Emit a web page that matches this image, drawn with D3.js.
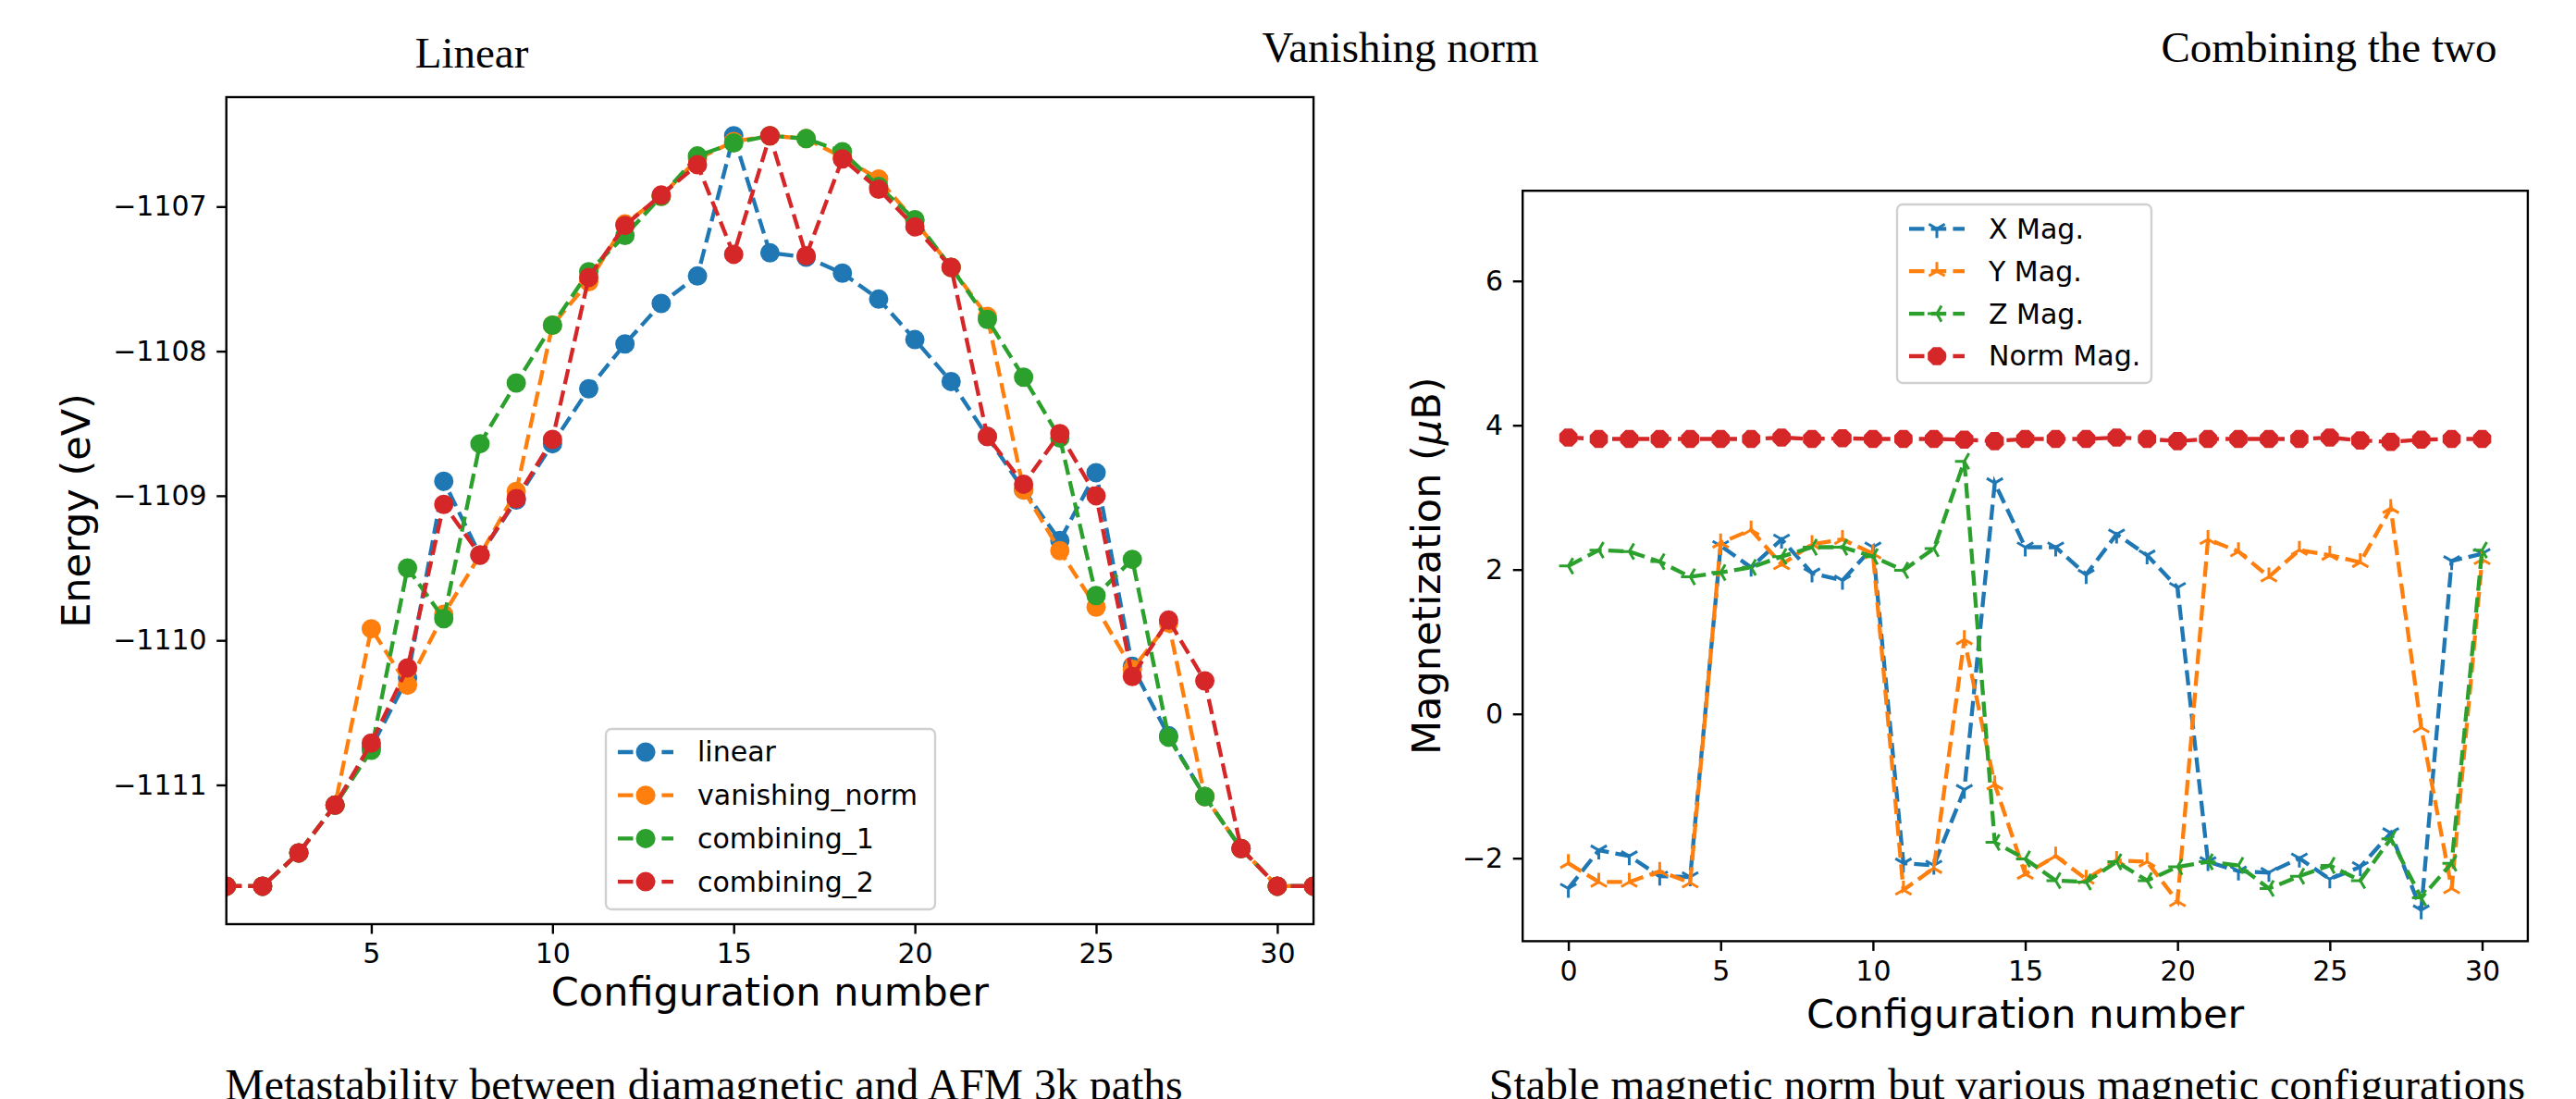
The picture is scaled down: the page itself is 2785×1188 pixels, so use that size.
<!DOCTYPE html>
<html>
<head>
<meta charset="utf-8">
<title>Energy and magnetization along configuration paths</title>
<script src="https://d3js.org/d3.v7.min.js"></script>
<style>
    body { margin: 0; background: #fff; }
    svg { display: block; }
    .tick text { font-family: "DejaVu Sans", sans-serif; font-size: 30px; fill: #000; }
    .tick line { stroke: #000; stroke-width: 2.4px; }
    .domain { display: none; }
    .axis-label { font-family: "DejaVu Sans", sans-serif; font-size: 43px; fill: #000; }
    .caption { font-family: "Liberation Serif", serif; font-size: 47px; fill: #000; }
    .caption.bottom { font-size: 47.8px; }
    .legend text { font-family: "DejaVu Sans", sans-serif; font-size: 30px; fill: #000; }
</style>
</head>
<body>
<div id="chart"></div>
<script>

// left panel: energy along the path
const energyConfigs = [1, 2, 3, 4, 5, 6, 7, 8, 9, 10, 11, 12, 13, 14, 15, 16,
    17, 18, 19, 20, 21, 22, 23, 24, 25, 26, 27, 28, 29, 30, 31];
const linear = [-1111.70, -1111.70, -1111.47, -1111.14, -1110.74, -1110.26, -1108.90, -1109.41,
    -1109.03, -1108.64, -1108.26, -1107.95, -1107.67, -1107.48, -1106.51, -1107.32,
    -1107.35, -1107.46, -1107.64, -1107.92, -1108.21, -1108.59, -1108.96, -1109.31,
    -1108.84, -1110.18, -1110.66, -1111.08, -1111.44, -1111.70, -1111.70];
const vanishingNorm = [-1111.70, -1111.70, -1111.47, -1111.14, -1109.92, -1110.31, -1109.82, -1109.41,
    -1108.97, -1107.82, -1107.52, -1107.12, -1106.93, -1106.67, -1106.55, -1106.51,
    -1106.53, -1106.66, -1106.81, -1107.10, -1107.42, -1107.76, -1108.96, -1109.38,
    -1109.77, -1110.20, -1109.88, -1111.08, -1111.44, -1111.70, -1111.70];
const combining1 = [-1111.70, -1111.70, -1111.47, -1111.14, -1110.76, -1109.50, -1109.85, -1108.64,
    -1108.22, -1107.82, -1107.45, -1107.20, -1106.93, -1106.65, -1106.56, -1106.51,
    -1106.53, -1106.62, -1106.86, -1107.09, -1107.42, -1107.78, -1108.18, -1108.60,
    -1109.69, -1109.44, -1110.67, -1111.08, -1111.44, -1111.70, -1111.70];
const combining2 = [-1111.70, -1111.70, -1111.47, -1111.14, -1110.71, -1110.19, -1109.06, -1109.41,
    -1109.02, -1108.61, -1107.49, -1107.13, -1106.92, -1106.71, -1107.33, -1106.51,
    -1107.34, -1106.67, -1106.88, -1107.14, -1107.42, -1108.59, -1108.92, -1108.57,
    -1109.00, -1110.25, -1109.86, -1110.28, -1111.44, -1111.70, -1111.70];
const energyNames = ["linear", "vanishing_norm", "combining_1", "combining_2"];
const energyXTicks = [5, 10, 15, 20, 25, 30];
const energyYTicks = [-1107, -1108, -1109, -1110, -1111];

// right panel: magnetization components
const magConfigs = [0, 1, 2, 3, 4, 5, 6, 7, 8, 9, 10, 11, 12, 13, 14, 15,
    16, 17, 18, 19, 20, 21, 22, 23, 24, 25, 26, 27, 28, 29, 30];
const xMag = [-2.42, -1.89, -1.97, -2.25, -2.26, 2.33, 2.03, 2.42, 1.95, 1.85, 2.31,
    -2.07, -2.10, -1.05, 3.20, 2.31, 2.31, 1.93, 2.49, 2.20, 1.75,
    -2.05, -2.18, -2.20, -2.00, -2.29, -2.12, -1.65, -2.72, 2.12, 2.22];
const yMag = [-2.07, -2.33, -2.33, -2.18, -2.34, 2.37, 2.55, 2.07, 2.35, 2.42, 2.22,
    -2.44, -2.14, 1.03, -0.98, -2.22, -1.97, -2.29, -2.03, -2.05, -2.60,
    2.42, 2.25, 1.90, 2.27, 2.20, 2.10, 2.85, -0.19, -2.42, 2.14];
const zMag = [2.05, 2.27, 2.25, 2.11, 1.90, 1.96, 2.03, 2.18, 2.31, 2.31, 2.18,
    1.99, 2.29, 3.50, -1.78, -2.01, -2.31, -2.33, -2.05, -2.31, -2.12,
    -2.05, -2.10, -2.42, -2.25, -2.10, -2.31, -1.73, -2.55, -2.07, 2.27];
const normMag = [3.83, 3.81, 3.81, 3.81, 3.81, 3.81, 3.81, 3.83, 3.81, 3.82, 3.81,
    3.81, 3.81, 3.80, 3.78, 3.81, 3.81, 3.81, 3.83, 3.81, 3.78,
    3.81, 3.81, 3.81, 3.81, 3.83, 3.79, 3.77, 3.80, 3.81, 3.81];
const magNames = ["X Mag.", "Y Mag.", "Z Mag.", "Norm Mag."];
const magXTicks = [0, 5, 10, 15, 20, 25, 30];
const magYTicks = [-2, 0, 2, 4, 6];

const colors = ["#1f77b4", "#ff7f0e", "#2ca02c", "#d62728"];

const width = 2785;
const height = 1188;
const lineW = 4.3;
const dash = "16.5,7.2";

const svg = d3.select("#chart")
    .append("svg")
    .attr("width", width)
    .attr("height", height);

// marker shapes (centered at 0,0)
function octagon(r) {
    const pts = d3.range(8).map(i => {
        const a = (22.5 + 45 * i) * Math.PI / 180;
        return [r * Math.cos(a), r * Math.sin(a)];
    });
    return "M" + pts.map(p => p.join(",")).join("L") + "Z";
}
function tri(r, dir) {
    // dir: "down" = Y shape, "up" = upside-down Y, "left"
    const c = 0.866 * r, h = 0.5 * r;
    if (dir === "down") return `M0,0L0,${r}M0,0L${-c},${-h}M0,0L${c},${-h}`;
    if (dir === "up") return `M0,0L0,${-r}M0,0L${-c},${h}M0,0L${c},${h}`;
    return `M0,0L${-r},0M0,0L${h},${-c}M0,0L${h},${c}`;
}

function drawMarker(g, kind, color) {
    if (kind === "circle") {
        g.append("circle").attr("r", 9)
            .attr("fill", color).attr("stroke", color).attr("stroke-width", 3);
    } else if (kind === "oct") {
        g.append("path").attr("d", octagon(9))
            .attr("fill", color).attr("stroke", color).attr("stroke-width", 3);
    } else {
        g.append("path").attr("d", tri(10, kind))
            .attr("fill", "none").attr("stroke", color).attr("stroke-width", 3);
    }
}

// ---------------- left panel ----------------
const L = { left: 244.7, right: 1420.1, top: 105, bottom: 999 };

const xE = d3.scaleLinear().domain([1, 31]).range([L.left, L.right]);
const yE = d3.scaleLinear().domain([-1111.963, -1106.243]).range([L.bottom, L.top]);

svg.append("clipPath").attr("id", "clipE")
    .append("rect")
    .attr("x", L.left).attr("y", L.top)
    .attr("width", L.right - L.left).attr("height", L.bottom - L.top);

const energySeries = [linear, vanishingNorm, combining1, combining2];
const plotE = svg.append("g").attr("clip-path", "url(#clipE)");

energySeries.forEach((vals, i) => {
    const pts = energyConfigs.map((c, j) => [c, vals[j]]);
    const line = d3.line().x(d => xE(d[0])).y(d => yE(d[1]));
    plotE.append("path")
        .attr("d", line(pts))
        .attr("fill", "none")
        .attr("stroke", colors[i])
        .attr("stroke-width", lineW)
        .attr("stroke-dasharray", dash);
    plotE.selectAll(".m" + i)
        .data(pts)
        .enter()
        .append("circle")
        .attr("cx", d => xE(d[0]))
        .attr("cy", d => yE(d[1]))
        .attr("r", 9)
        .attr("fill", colors[i])
        .attr("stroke", colors[i])
        .attr("stroke-width", 3);
});

svg.append("rect")
    .attr("x", L.left).attr("y", L.top)
    .attr("width", L.right - L.left).attr("height", L.bottom - L.top)
    .attr("fill", "none").attr("stroke", "#000").attr("stroke-width", 2.4);

svg.append("g")
    .attr("transform", `translate(0,${L.bottom})`)
    .call(d3.axisBottom(xE).tickValues(energyXTicks).tickSize(10.5).tickPadding(10.5));
svg.append("g")
    .attr("transform", `translate(${L.left},0)`)
    .call(d3.axisLeft(yE).tickValues(energyYTicks).tickSize(10.5).tickPadding(10.5)
        .tickFormat(d3.format("d")));

svg.append("text").attr("class", "axis-label")
    .attr("x", (L.left + L.right) / 2).attr("y", 1087)
    .attr("text-anchor", "middle")
    .text("Configuration number");
svg.append("text").attr("class", "axis-label")
    .attr("transform", `translate(97,${(L.top + L.bottom) / 2}) rotate(-90)`)
    .attr("text-anchor", "middle")
    .text("Energy (eV)");

// legend (left)
const legE = svg.append("g").attr("class", "legend");
legE.append("rect")
    .attr("x", 655).attr("y", 788).attr("width", 356).attr("height", 195)
    .attr("rx", 6).attr("fill", "#fff").attr("fill-opacity", 0.8)
    .attr("stroke", "#d0d0d0").attr("stroke-width", 2.4);
energyNames.forEach((name, i) => {
    const cy = 813 + i * 46.7;
    legE.append("line")
        .attr("x1", 668).attr("x2", 728).attr("y1", cy).attr("y2", cy)
        .attr("stroke", colors[i]).attr("stroke-width", lineW)
        .attr("stroke-dasharray", dash);
    drawMarker(legE.append("g").attr("transform", `translate(698,${cy})`), "circle", colors[i]);
    legE.append("text").attr("x", 754).attr("y", cy + 10.4).text(name);
});

// ---------------- right panel ----------------
const R = { left: 1646.2, right: 2732.9, top: 206.2, bottom: 1017.4 };

const xM = d3.scaleLinear().domain([-1.5, 31.5]).range([R.left, R.right]);
const yM = d3.scaleLinear().domain([-3.15, 7.25]).range([R.bottom, R.top]);

const magSeries = [xMag, yMag, zMag, normMag];
const magMarkers = ["down", "up", "left", "oct"];

magSeries.forEach((vals, i) => {
    const pts = magConfigs.map((c, j) => [c, vals[j]]);
    const line = d3.line().x(d => xM(d[0])).y(d => yM(d[1]));
    svg.append("path")
        .attr("d", line(pts))
        .attr("fill", "none")
        .attr("stroke", colors[i])
        .attr("stroke-width", lineW)
        .attr("stroke-dasharray", dash);
    pts.forEach(p => {
        drawMarker(svg.append("g").attr("transform", `translate(${xM(p[0])},${yM(p[1])})`),
            magMarkers[i], colors[i]);
    });
});

svg.append("rect")
    .attr("x", R.left).attr("y", R.top)
    .attr("width", R.right - R.left).attr("height", R.bottom - R.top)
    .attr("fill", "none").attr("stroke", "#000").attr("stroke-width", 2.4);

svg.append("g")
    .attr("transform", `translate(0,${R.bottom})`)
    .call(d3.axisBottom(xM).tickValues(magXTicks).tickSize(10.5).tickPadding(10.5));
svg.append("g")
    .attr("transform", `translate(${R.left},0)`)
    .call(d3.axisLeft(yM).tickValues(magYTicks).tickSize(10.5).tickPadding(10.5));

svg.append("text").attr("class", "axis-label")
    .attr("x", (R.left + R.right) / 2).attr("y", 1111)
    .attr("text-anchor", "middle")
    .text("Configuration number");
const yLab = svg.append("text").attr("class", "axis-label")
    .attr("transform", `translate(1557,${(R.top + R.bottom) / 2}) rotate(-90)`)
    .attr("text-anchor", "middle");
yLab.append("tspan").text("Magnetization (");
yLab.append("tspan").attr("font-style", "italic").text("μ");
yLab.append("tspan").text("B)");

// legend (right)
const legM = svg.append("g").attr("class", "legend");
legM.append("rect")
    .attr("x", 2051).attr("y", 221).attr("width", 275).attr("height", 193)
    .attr("rx", 6).attr("fill", "#fff").attr("fill-opacity", 0.8)
    .attr("stroke", "#d0d0d0").attr("stroke-width", 2.4);
magNames.forEach((name, i) => {
    const cy = 247.3 + i * 45.9;
    legM.append("line")
        .attr("x1", 2064).attr("x2", 2124).attr("y1", cy).attr("y2", cy)
        .attr("stroke", colors[i]).attr("stroke-width", lineW)
        .attr("stroke-dasharray", dash);
    drawMarker(legM.append("g").attr("transform", `translate(2094,${cy})`), magMarkers[i], colors[i]);
    legM.append("text").attr("x", 2150).attr("y", cy + 10.4).text(name);
});

// ---------------- titles and captions ----------------
// the two captions sit at the very bottom edge and are cut there, as in the source figure
const titles = [
    { text: "Linear", x: 510, y: 72.7, cls: "caption" },
    { text: "Vanishing norm", x: 1514, y: 66.7, cls: "caption" },
    { text: "Combining the two", x: 2518, y: 66.7, cls: "caption" },
    { text: "Metastability between diamagnetic and AFM 3k paths", x: 761, y: 1189, cls: "caption bottom" },
    { text: "Stable magnetic norm but various magnetic configurations", x: 2170, y: 1189, cls: "caption bottom" }
];
svg.selectAll(".caption")
    .data(titles)
    .enter()
    .append("text")
    .attr("class", d => d.cls)
    .attr("x", d => d.x)
    .attr("y", d => d.y)
    .attr("text-anchor", "middle")
    .text(d => d.text);

</script>
</body>
</html>
